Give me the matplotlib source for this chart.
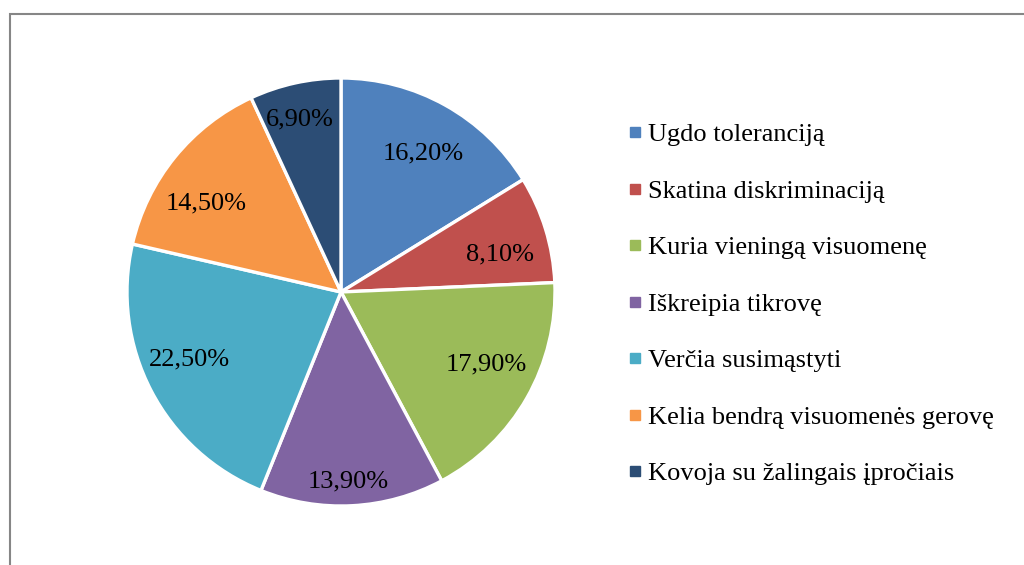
import numpy as np
import matplotlib
matplotlib.use("Agg")
import matplotlib.pyplot as plt
from matplotlib.patches import Rectangle
from matplotlib.lines import Line2D

categories = [
    "Ugdo toleranciją",
    "Skatina diskriminaciją",
    "Kuria vieningą visuomenę",
    "Iškreipia tikrovę",
    "Verčia susimąstyti",
    "Kelia bendrą visuomenės gerovę",
    "Kovoja su žalingais įpročiais",
]
shares = [16.2, 8.1, 17.9, 13.9, 22.5, 14.5, 6.9]
colors = ["#4F81BD", "#C0504D", "#9BBB59", "#8064A2", "#4BACC6", "#F79646", "#2C4D75"]
# placement of each percentage label: fraction of radius, and nudge (deg) off the wedge middle
label_radius = [0.765, 0.765, 0.755, 0.875, 0.772, 0.762, 0.84]
label_nudge = [-1.0, -3.0, 4.0, -0.8, -4.3, 5.0, 0.8]

plt.rcParams["font.family"] = ["Liberation Serif", "DejaVu Serif"]

W, H = 1024, 565
fig = plt.figure(figsize=(W / 100, H / 100), dpi=100)

# pie centre (341, 292) px from top-left, radius 214 px
cx, cy, r = 341, 292, 214
ax = fig.add_axes([(cx - r) / W, (H - cy - r) / H, 2 * r / W, 2 * r / H])

wedges, _ = ax.pie(
    shares,
    colors=colors,
    startangle=90,
    counterclock=False,
    wedgeprops=dict(edgecolor="white", linewidth=2.4, clip_on=False),
)
ax.set_xlim(-1, 1)
ax.set_ylim(-1, 1)
ax.set_aspect("equal")
ax.axis("off")

for w, val, lr, nudge in zip(wedges, shares, label_radius, label_nudge):
    ang = np.deg2rad((w.theta1 + w.theta2) / 2 + nudge)
    ax.text(lr * np.cos(ang), lr * np.sin(ang) - 0.012, f"{val:.2f}%".replace(".", ","),
            ha="center", va="center", fontsize=19, color="black")

handles = [Line2D([], [], marker="s", linestyle="none", markersize=6.5,
                  markerfacecolor=c, markeredgecolor=c) for c in colors]
fig.legend(handles, categories, loc="upper left",
           bbox_to_anchor=(630 / W, 1 - 123 / H), frameon=False,
           fontsize=19, labelspacing=1.25, handlelength=0.4,
           handletextpad=0.28, borderpad=0, borderaxespad=0)

# chart-area border (right and bottom edges fall outside the image)
fig.add_artist(Rectangle((9.5 / W, -0.2), 2, 1.2 - 13.5 / H,
                         transform=fig.transFigure, fill=False,
                         edgecolor="#868686", linewidth=1.5))

fig.savefig("out.png", dpi=100)
